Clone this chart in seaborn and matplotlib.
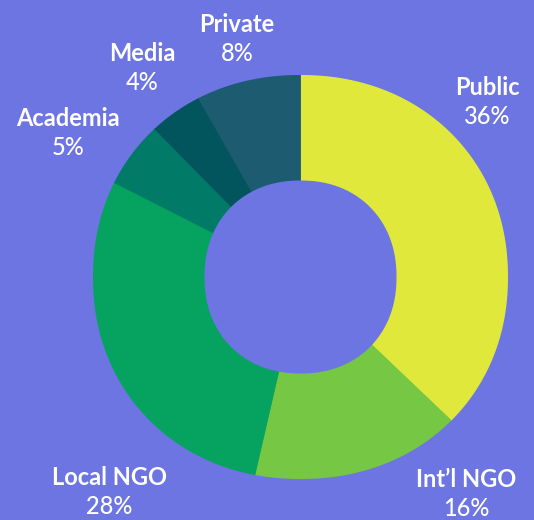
import numpy as np
import matplotlib
matplotlib.use("Agg")
import matplotlib.pyplot as plt
from matplotlib.patches import Polygon
import seaborn as sns

sectors = ["Public", "Int\u2019l NGO", "Local NGO", "Academia", "Media", "Private"]
shares = [36, 16, 28, 5, 4, 8]
colors = ["#E0E83C", "#75C744", "#05A35F", "#027A68", "#02555C", "#1D5B70"]

BG = "#6C75E1"

# label anchors in pixels from the top-left of the picture (name baseline)
label_pos = [(487, 95), (466, 487), (109, 485), (68, 126), (142, 61), (237, 32)]

W, H = 534, 520
CX, CY = 300.5, 277


def superellipse(rx, ry, n, num=400):
	t = np.linspace(0, 2 * np.pi, num)
	c, s = np.cos(t), np.sin(t)
	x = rx * np.sign(c) * np.abs(c) ** (2 / n)
	y = ry * np.sign(s) * np.abs(s) ** (2 / n)
	return np.column_stack([x, y])


def main():
	sns.set_style("white")
	plt.rcParams["font.family"] = ["Lato", "DejaVu Sans"]

	fig = plt.figure(figsize=(W / 100, H / 100), dpi=100, facecolor=BG)
	ax = fig.add_axes([0, 0, 1, 1])
	ax.set_facecolor(BG)

	wedges, _ = ax.pie(
		shares,
		colors=colors,
		startangle=90,
		counterclock=False,
		radius=260,
	)
	# ring edges are slightly squarish, so clip wedges to a superellipse
	outer = Polygon(superellipse(207.5, 202, 2.1), closed=True, transform=ax.transData)
	for w in wedges:
		w.set_edgecolor(w.get_facecolor())
		w.set_linewidth(0.6)
		w.set_clip_on(True)
		w.set_clip_path(outer)

	hole = Polygon(superellipse(96, 96.5, 2.15), closed=True, facecolor=BG, edgecolor="none", zorder=5)
	ax.add_patch(hole)

	for name, pct, (px, py) in zip(sectors, shares, label_pos):
		x, y = px - CX, CY - py
		ax.text(x, y, name, ha="center", va="baseline", color="white",
				fontsize=17, fontweight="bold")
		ax.text(x, y - 29, f"{pct}%", ha="center", va="baseline", color="white",
				fontsize=17, fontweight="medium")

	ax.set_xlim(-CX, W - CX)
	ax.set_ylim(-(H - CY), CY)
	ax.set_aspect("auto")
	ax.axis("off")
	fig.savefig("out.png", dpi=100, facecolor=BG)
	plt.close(fig)


if __name__ == "__main__":
	main()
